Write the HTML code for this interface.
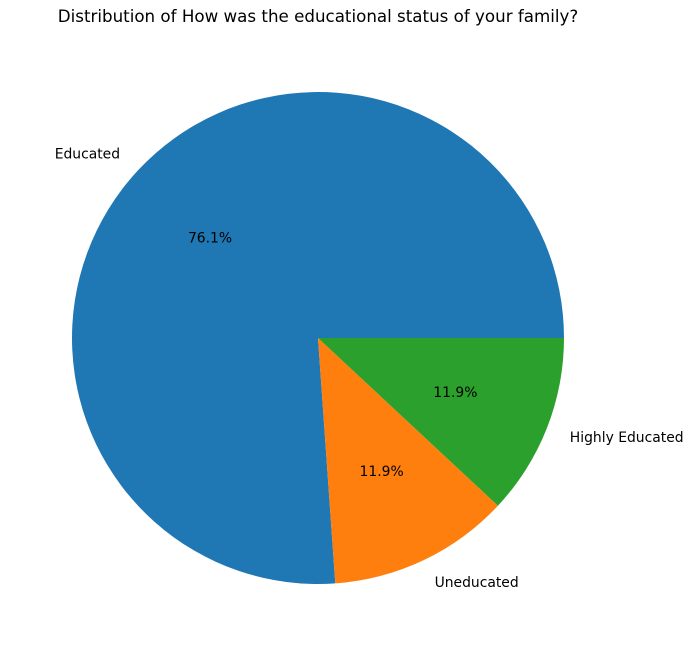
<!DOCTYPE html>
<html><head><meta charset="utf-8"><style>
body{margin:0;background:#fff;}
svg{display:block;font-family:"DejaVu Sans","Liberation Sans",sans-serif;}
</style></head><body>
<svg id="chart" width="694" height="656">
<text x="318" y="22" text-anchor="middle" font-size="16.7" fill="#000">Distribution of How was the educational status of your family?</text>
<g id="slices"></g>
</svg>
<script>
const categories = ["Educated", "Uneducated", "Highly Educated"];
const values = [51, 8, 8];
const colors = ["#1f77b4", "#ff7f0e", "#2ca02c"];
const cx = 318, cy = 338, r = 246;
const g = document.getElementById('slices');
const NS = "http://www.w3.org/2000/svg";
const total = values.reduce((a,b)=>a+b,0);
function pt(angDeg, rr){const a=angDeg*Math.PI/180;return [cx+rr*Math.cos(a), cy-rr*Math.sin(a)];}
let start = 0;
values.forEach((v,i)=>{
  const sweep = v/total*360, end = start+sweep;
  const p1 = pt(start,r), p2 = pt(end,r);
  const path = document.createElementNS(NS,'path');
  path.setAttribute('d',`M${cx},${cy} L${p1[0]},${p1[1]} A${r},${r} 0 ${sweep>180?1:0} 0 ${p2[0]},${p2[1]} Z`);
  path.setAttribute('fill',colors[i]);
  
  
  g.appendChild(path);
  const mid = start+sweep/2;
  const lp = pt(mid, r*1.1);
  const t = document.createElementNS(NS,'text');
  t.setAttribute('x',lp[0]); t.setAttribute('y',lp[1]+5);
  t.setAttribute('text-anchor', lp[0]>=cx ? 'start' : 'end');
  t.setAttribute('font-size','13.9');
  t.textContent = categories[i];
  
  
  g.appendChild(t);
  const pp = pt(mid, r*0.6);
  const pctEl = document.createElementNS(NS,'text');
  pctEl.setAttribute('x',pp[0]); pctEl.setAttribute('y',pp[1]+5);
  pctEl.setAttribute('text-anchor','middle');
  pctEl.setAttribute('font-size','13.9');
  pctEl.textContent = (v/total*100).toFixed(1)+'%';
  
  
  g.appendChild(pctEl);
  start = end;
});
</script>
</body></html>
